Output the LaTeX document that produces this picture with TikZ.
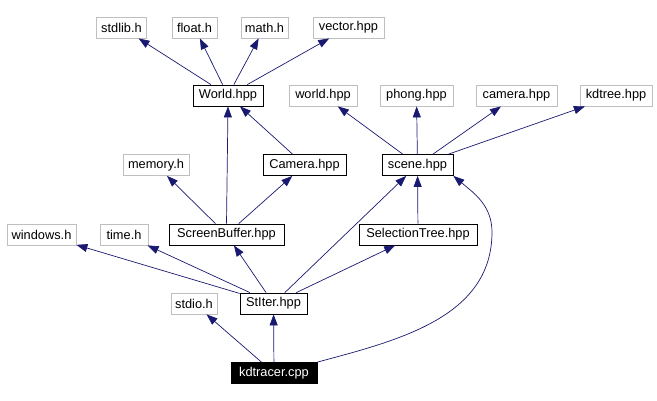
\documentclass[tikz,border=0pt]{standalone}
\usepackage{fontspec}
\setmainfont{Liberation Sans}
\usepackage{xcolor}
\usepackage{tikz}
\usetikzlibrary{arrows.meta}

\definecolor{edgeblue}{RGB}{25,25,112}
\definecolor{sysgray}{RGB}{191,191,191}

\tikzset{
  filebox/.style={draw=black, line width=0.8pt, minimum height=21pt, inner sep=0pt,
    font=\fontsize{12.8}{14}\selectfont},
  sysbox/.style={filebox, draw=sysgray},
  rootbox/.style={filebox, fill=black, text=white},
  dep/.style={draw=edgeblue, line width=0.7pt, -{Triangle[length=11pt,width=8pt]}}
}

\begin{document}
\begin{tikzpicture}[x=1pt, y=-1pt]
  \useasboundingbox (0,0) rectangle (657,401);

  %% Top row: headers of World.hpp
  \node[sysbox, minimum width=50pt] (stdlib) at (121.5,27.5) {stdlib.h};
  \node[sysbox, minimum width=45pt] (float)  at (194.5,27.5) {float.h};
  \node[sysbox, minimum width=47pt] (math)   at (264.5,27.5) {math.h};
  \node[sysbox, minimum width=71pt] (vector) at (348.5,27.5) {vector.hpp};

  %% Second row
  \node[filebox, minimum width=70pt] (World)  at (228,95.5)   {World.hpp};
  \node[sysbox, minimum width=68pt]  (world)  at (323,95.5)   {world.hpp};
  \node[sysbox, minimum width=73pt]  (phong)  at (416.5,95.5) {phong.hpp};
  \node[sysbox, minimum width=81pt]  (camera) at (516.5,95.5) {camera.hpp};
  \node[sysbox, minimum width=72pt]  (kdtree) at (616,95.5)   {kdtree.hpp};

  %% Third row
  \node[sysbox, minimum width=66pt]  (memory) at (156,165)   {memory.h};
  \node[filebox, minimum width=83pt] (Camera) at (304.5,165) {Camera.hpp};
  \node[filebox, minimum width=71pt] (scene)  at (417.5,165) {scene.hpp};

  %% Fourth row
  \node[sysbox, minimum width=69pt]   (windows) at (41.5,234.5)  {windows.h};
  \node[sysbox, minimum width=48pt]   (time)    at (124,234.5)   {time.h};
  \node[filebox, minimum width=115pt] (screen)  at (226.5,234.5) {ScreenBuffer.hpp};
  \node[filebox, minimum width=118pt] (seltree) at (418,234.5)   {SelectionTree.hpp};

  %% Bottom rows
  \node[sysbox, minimum width=46pt]  (stdio)    at (194,303.5)   {stdio.h};
  \node[filebox, minimum width=67pt] (stiter)   at (273.5,303.5) {StIter.hpp};
  \node[rootbox, minimum width=86pt] (kdtracer) at (274,373)     {kdtracer.cpp};

  %% Include edges
  \foreach \src/\dst in {World/stdlib, World/float, World/math, World/vector,
      scene/world, scene/phong, scene/camera, scene/kdtree,
      Camera/World, screen/memory, screen/Camera,
      stiter/windows, stiter/time, stiter/screen, stiter/scene, stiter/seltree,
      seltree/scene, kdtracer/stdio, kdtracer/stiter} {
    \draw[dep] (\src) -- (\dst);
  }
  \draw[dep] (screen.north) -- (World.south);

  %% kdtracer.cpp also pulls scene.hpp directly
  \coordinate (bend) at (492,232);
  \draw[dep] (kdtracer.north east) to[out=15, in=-90] (bend)
    to[out=90, in=-40] (scene.south east);
\end{tikzpicture}
\end{document}
